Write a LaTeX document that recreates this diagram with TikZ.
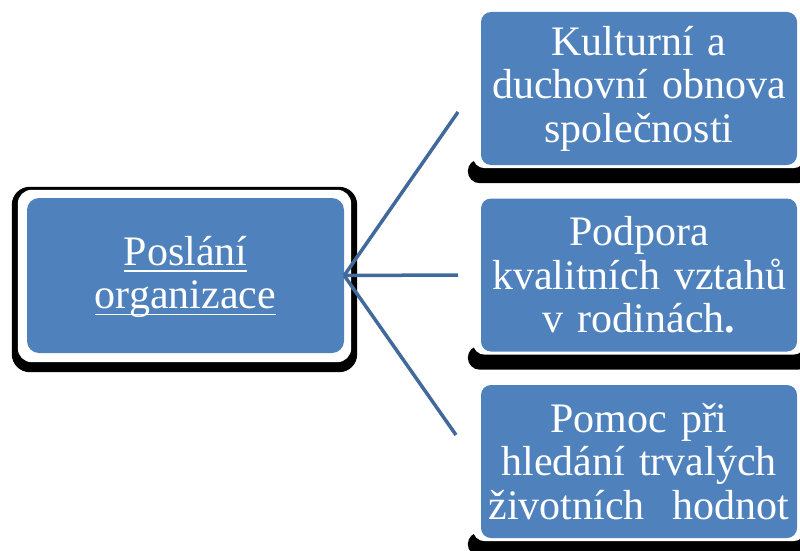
\documentclass[tikz,border=0pt]{standalone}
\usepackage{fontspec}
\setmainfont{Liberation Serif}
\usetikzlibrary{calc,backgrounds}
\definecolor{boxblue}{RGB}{79,129,189}
\definecolor{lineblue}{RGB}{65,105,155}
\newcommand\ulin[1]{\leavevmode\vtop{\hbox{\raisebox{0pt}[\height][0pt]{#1}}\kern5pt\hrule height 1.6pt}}

\begin{document}
\begin{tikzpicture} [x=1pt,y=-1pt,
  boxnode/.style= {fill=boxblue,rounded corners=10pt,text=white,font=\fontsize{42}{43.5}\selectfont,align=center,inner sep=0pt,minimum width=316pt,minimum height=153pt,text width=310pt},
  link/.style= {draw=lineblue,line width=3.5pt}]
\useasboundingbox (0,0) rectangle (800,551);

\node[boxnode,minimum width=317pt,minimum height=155pt,rounded corners=12pt] (p) at (185.5,275.5) {\ulin{Poslání}\\\ulin{organizace}};
\foreach \t [count=\i] in {{Kulturní a\\duchovní obnova\\společnosti},{Podpora\\kvalitních vztahů\\v rodinách{\bfseries .}},{Pomoc při\\hledání trvalých\\životních~ hodnot}}{%
  \node[boxnode] (k\i) at (639,{88.5+186.5*(\i-1)}) {\t};}

% shadows and white rims
\begin{scope}[on background layer]
  \fill[black,rounded corners=18pt] ($(p.north west)+(-15,-11)$) rectangle ($(p.south east)+(13,19)$);
  \fill[white,rounded corners=14pt] ($(p.north west)+(-9,-8)$) rectangle ($(p.south east)+(7,9)$);
  \foreach \n in {k1,k2,k3}{%
    \fill[black,rounded corners=12pt] ($(\n.south west)+(-13,-6)$) rectangle ($(\n.south east)+(13,18)$);
    \fill[white,rounded corners=12pt] ($(\n.north west)+(-8,-8)$) rectangle ($(\n.south east)+(8,3)$);}
\end{scope}

\coordinate (e1) at (458,112);
\coordinate (e2) at (458,275);
\coordinate (e3) at (456,435);
\foreach \k in {1,2,3} {\draw[link] (p.east) -- (e\k);}
\end{tikzpicture}
\end{document}
